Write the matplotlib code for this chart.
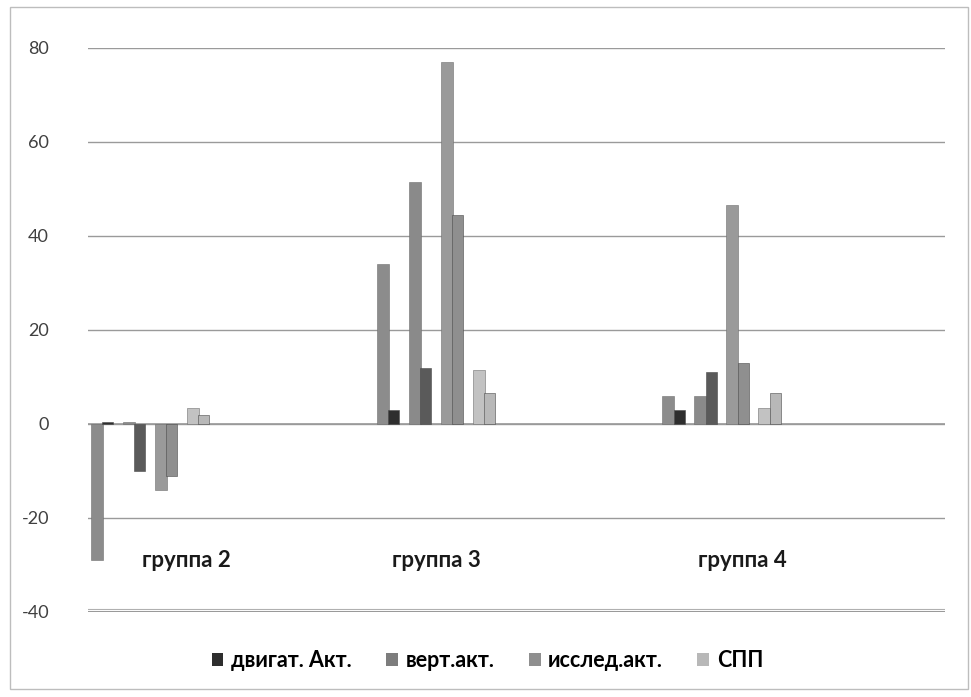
import matplotlib
matplotlib.use("Agg")
import matplotlib.pyplot as plt
from matplotlib.patches import Rectangle, Patch
import numpy as np

plt.rcParams['font.family'] = ['Lato', 'DejaVu Sans']

groups = ["группа 2", "группа 3", "группа 4"]
series = ["двигат. Акт.", "верт.акт.", "исслед.акт.", "СПП"]

# rear (left) bar of each pair, per group
rear_motor = [-29, 34, 6]
rear_vert = [0.5, 51.5, 6]
rear_explore = [-14, 77, 46.5]
rear_spp = [3.5, 11.5, 3.5]

# front (right) bar of each pair, per group
front_motor = [0.5, 3, 3]
front_vert = [-10, 12, 11]
front_explore = [-11, 44.5, 13]
front_spp = [2, 6.5, 6.5]

yticks = [-40, -20, 0, 20, 40, 60, 80]

rear = [rear_motor, rear_vert, rear_explore, rear_spp]
front = [front_motor, front_vert, front_explore, front_spp]
rear_colors = ["#8c8c8c", "#8a8a8a", "#9a9a9a", "#c2c2c2"]
front_colors = ["#2e2e2e", "#5a5a5a", "#8f8f8f", "#b8b8b8"]
legend_colors = ["#2e2e2e", "#7d7d7d", "#8f8f8f", "#b8b8b8"]

W, H = 971, 697
fig = plt.figure(figsize=(W / 100, H / 100), dpi=100)
fig.patch.set_facecolor("white")

# chart-area border
fig.patches.append(Rectangle((10 / W, 8 / H), 958 / W, 682 / H, transform=fig.transFigure,
                             fill=False, edgecolor="#bdbdbd", lw=1.0))

ax = fig.add_axes([88 / W, (H - 612) / H, (945 - 88) / W, (612 - 48) / H])
ax.set_facecolor("none")
ax.set_ylim(-40, 80)
ax.set_xlim(-0.22, 2.78)
ax.set_yticks(yticks)
ax.set_yticklabels([str(t) for t in yticks], fontsize=13, color="#404040")
ax.tick_params(axis="y", length=0, pad=28)
ax.set_xticks([])
for s in ax.spines.values():
    s.set_visible(False)
ax.grid(axis="y", color="#9a9a9a", lw=1.0)
ax.set_axisbelow(True)
ax.axhline(-40, color="#8a8a8a", lw=1.2, zorder=1)
ax.axhline(-39.3, color="#b0b0b0", lw=0.8, zorder=1)

px = (2.78 + 0.22) / (945 - 88)   # data units per pixel along x
pitch = 32 * px
width = 12 * px
shift = 11 * px

x = np.arange(len(groups))
for j in range(len(series)):
    left = x + (j - 1.5) * pitch - 6 * px
    ax.bar(left, rear[j], width=width, color=rear_colors[j], edgecolor="#6f6f6f",
           lw=0.4, zorder=3)
    ax.bar(left + shift, front[j], width=width * 0.9, color=front_colors[j],
           edgecolor="#4a4a4a", lw=0.4, zorder=4)

ax.axhline(0, color="#9a9a9a", lw=1.2, zorder=2)

label_x = [0.126, 1.0, 2.07]
for lx, g in zip(label_x, groups):
    ax.text(lx, -29, g, ha="center", va="center", fontsize=16, fontweight="bold",
            color="#1a1a1a")

handles = [Patch(facecolor=c, edgecolor="none") for c in legend_colors]
fig.legend(handles, series, loc="center", bbox_to_anchor=(0.502, 0.052), ncol=4,
           frameon=False, prop={"size": 15.5, "weight": "bold"},
           handlelength=0.55, handleheight=0.55, handletextpad=0.35, columnspacing=1.6)

fig.savefig("out.png", dpi=100, facecolor="white")
